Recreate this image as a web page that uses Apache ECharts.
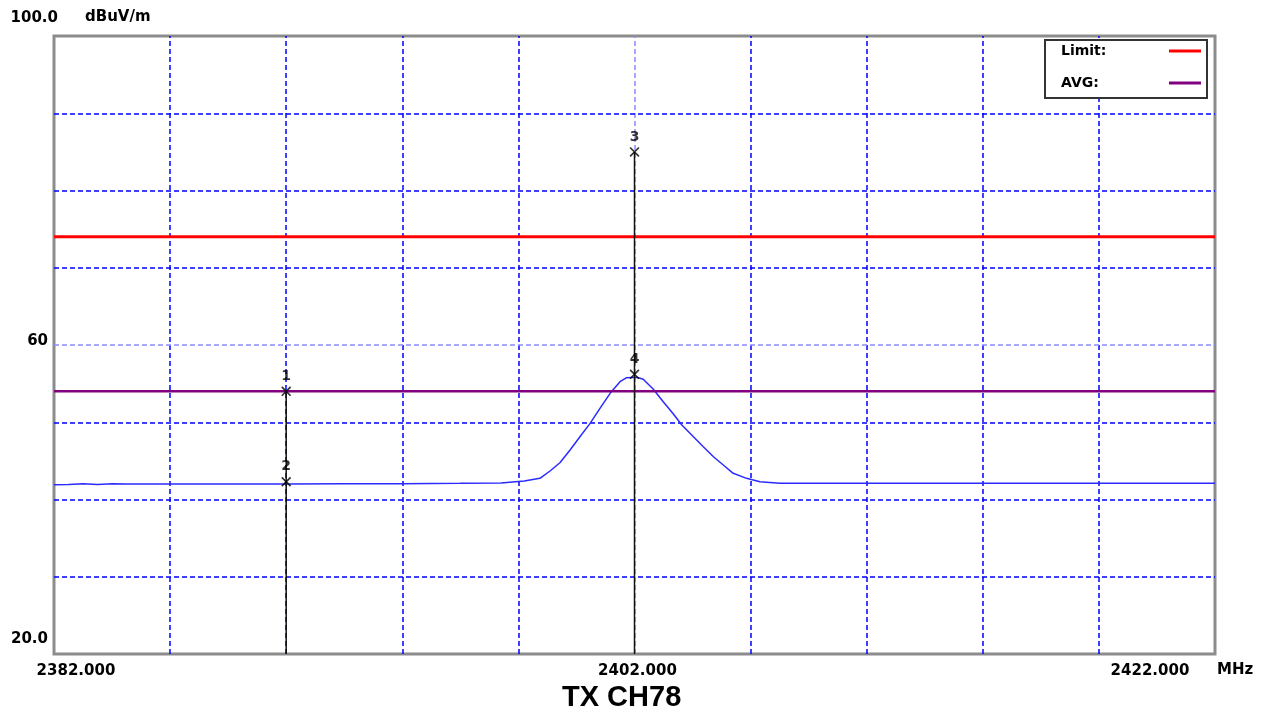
<!DOCTYPE html>
<html><head><meta charset="utf-8">
<script src="https://cdn.jsdelivr.net/npm/echarts@6/dist/echarts.min.js"></script>
<style>html,body{margin:0;padding:0;background:#fff}#c{width:1269px;height:715px}</style>
</head><body><div id="c"></div>
<script>
// ---- data ----
const traceFreq = [2382, 2382.5, 2383, 2383.5, 2384, 2384.5, 2386, 2388, 2390, 2392, 2394, 2396, 2397.4, 2398.2,
  2398.74, 2399.09, 2399.43, 2399.78, 2400.12, 2400.47, 2400.81, 2401.16, 2401.50, 2401.73, 2402.08, 2402.30,
  2402.65, 2402.99, 2403.34, 2403.63, 2404.03, 2404.37, 2404.72, 2405.06, 2405.40, 2405.86, 2406.32, 2407.01,
  2410, 2414, 2418, 2422];
const traceLevel = [41.9, 41.95, 42.05, 41.95, 42.05, 42.0, 42.0, 42.0, 42.0, 42.05, 42.05, 42.1, 42.15, 42.4,
  42.74, 43.69, 44.76, 46.41, 48.13, 49.86, 51.80, 53.74, 55.25, 55.77, 55.82, 55.56,
  54.27, 52.66, 51.07, 49.64, 48.13, 46.84, 45.54, 44.47, 43.39, 42.74, 42.30, 42.10,
  42.1, 42.1, 42.1, 42.1];
const limitLevel = 74;
const avgLevel = 54;
const markerNames = ['1', '2', '3', '4'];
const markerFreq = [2390, 2390, 2402, 2402];
const markerLevel = [54.0, 42.3, 85.0, 56.2];
const xTicks = [2382, 2386, 2390, 2394, 2398, 2402, 2406, 2410, 2414, 2418, 2422];
const yTicks = [20, 30, 40, 50, 60, 70, 80, 90, 100];
const yTickLabels = {100: '100.0', 60: '60', 20: '20.0'};
const xTickLabels = {2382: '2382.000', 2402: '2402.000', 2422: '2422.000'};
const xRange = [2382, 2422];
const yRange = [20, 100];
const centerX = 2402, centerY = 60;
const titleText = 'TX CH78';

// ---- chart ----
const FONT = 'DejaVu Sans';
const blue = '#0000ff', lightBlue = '#8c8cff';

const gridLines = [];
xTicks.slice(1, -1).forEach(v => gridLines.push({xAxis: v, lineStyle: {color: v === centerX ? lightBlue : blue}}));
yTicks.slice(1, -1).forEach(v => gridLines.push({yAxis: v, lineStyle: {color: v === centerY ? lightBlue : blue}}));

const stems = {};
markerFreq.forEach((f, i) => { stems[f] = Math.max(stems[f] || -Infinity, markerLevel[i]); });
const stemSeries = Object.keys(stems).map(f => ({
  type: 'line', name: 'stem' + f, data: [[+f, yRange[0]], [+f, stems[f]]],
  symbol: 'none', silent: true, z: 6,
  lineStyle: {color: '#111', width: 1.5}
}));

const chart = echarts.init(document.getElementById('c'));
chart.setOption({
  animation: false,
  backgroundColor: '#fff',
  title: {
    text: titleText, left: 557, top: 678,
    textStyle: {fontFamily: 'Liberation Sans', fontWeight: 'bold', fontSize: 29, color: '#000'}
  },
  legend: {
    data: ['Limit:', 'AVG:'], right: 62, top: 40, orient: 'vertical', align: 'right',
    icon: 'rect', itemWidth: 32, itemHeight: 3, itemGap: 16,
    padding: [3, 6, 7, 16], borderColor: '#333', borderWidth: 2, backgroundColor: '#fff',
    formatter: n => '{a|' + n + '}',
    textStyle: {fontFamily: FONT, fontWeight: 'bold', fontSize: 14, color: '#000', lineHeight: 16,
      rich: {a: {fontFamily: FONT, fontWeight: 'bold', fontSize: 14, color: '#000', width: 103, align: 'left'}}}
  },
  grid: {left: 54, right: 54, top: 36, bottom: 61, show: true, borderColor: '#8c8c8c', borderWidth: 3,
    outerBoundsMode: 'none', containLabel: false},
  xAxis: {
    type: 'value', min: xRange[0], max: xRange[1], interval: 4,
    name: '{u|MHz}', nameLocation: 'end', nameGap: 2, nameMoveOverlap: false,
    nameTextStyle: {fontFamily: FONT, fontWeight: 'bold', fontSize: 15, color: '#000', align: 'left',
      verticalAlign: 'top',
      rich: {u: {fontFamily: FONT, fontWeight: 'bold', fontSize: 15, color: '#000', lineHeight: 32}}},
    axisLine: {show: false}, axisTick: {show: false},
    axisLabel: {
      margin: 10, color: '#000', fontFamily: FONT, fontWeight: 'bold', fontSize: 15,
      formatter: v => {
        const t = xTickLabels[v];
        if (!t) return '';
        if (v === xRange[0]) return '{l|' + t + '}';
        if (v === xRange[1]) return '{r|' + t + '}';
        return '{c|' + t + '}';
      },
      rich: {
        l: {fontFamily: FONT, fontWeight: 'bold', fontSize: 15, color: '#000', padding: [0, 0, 0, 44]},
        r: {fontFamily: FONT, fontWeight: 'bold', fontSize: 15, color: '#000', padding: [0, 130, 0, 0]},
        c: {fontFamily: FONT, fontWeight: 'bold', fontSize: 15, color: '#000', padding: [0, 0, 0, 6]}
      }
    },
    splitLine: {show: false}
  },
  yAxis: {
    type: 'value', min: yRange[0], max: yRange[1], interval: 10,
    name: 'dBuV/m', nameLocation: 'end', nameGap: 19, nameMoveOverlap: false,
    nameTextStyle: {fontFamily: FONT, fontWeight: 'bold', fontSize: 15, color: '#000', align: 'left',
      verticalAlign: 'middle', padding: [0, 0, 0, 31]},
    axisLine: {show: false}, axisTick: {show: false},
    axisLabel: {
      margin: -4, color: '#000', fontFamily: FONT, fontWeight: 'bold', fontSize: 15,
      formatter: v => {
        const t = yTickLabels[v];
        if (!t) return '';
        if (v === yRange[1]) return '{t|' + t + '}';
        if (v === yRange[0]) return '{b|' + t + '}';
        return '{m|' + t + '}';
      },
      rich: {
        t: {fontFamily: FONT, fontWeight: 'bold', fontSize: 15, color: '#000', padding: [0, 0, 36, 0]},
        m: {fontFamily: FONT, fontWeight: 'bold', fontSize: 15, color: '#000', padding: [0, 10, 8, 0]},
        b: {fontFamily: FONT, fontWeight: 'bold', fontSize: 15, color: '#000', padding: [0, 10, 30, 0]}
      }
    },
    splitLine: {show: false}
  },
  series: [
    {type: 'line', name: 'grid', data: [], silent: true, z: 1,
      markLine: {silent: true, z: 1, symbol: 'none', animation: false, label: {show: false},
        lineStyle: {type: [5, 3], width: 1.5}, data: gridLines}},
    {type: 'line', name: 'Trace', data: traceFreq.map((f, i) => [f, traceLevel[i]]), symbol: 'none',
      lineStyle: {color: '#2b2bff', width: 1.5}, itemStyle: {color: '#2b2bff'}, z: 3},
    {type: 'line', name: 'Limit:', data: [[xRange[0], limitLevel], [xRange[1], limitLevel]], symbol: 'none',
      lineStyle: {color: '#ff0000', width: 3}, itemStyle: {color: '#ff0000'}, z: 3},
    {type: 'line', name: 'AVG:', data: [[xRange[0], avgLevel], [xRange[1], avgLevel]], symbol: 'none',
      lineStyle: {color: '#800080', width: 2.5}, itemStyle: {color: '#800080'}, z: 3},
    ...stemSeries,
    {type: 'scatter', name: 'markers', z: 7,
      data: markerFreq.map((f, i) => [f, markerLevel[i]]),
      symbol: 'path://M0,1.2L1.2,0L10,8.8L8.8,10Z M8.8,0L10,1.2L1.2,10L0,8.8Z', symbolSize: 10,
      itemStyle: {color: '#000'},
      label: {show: true, position: 'top', distance: 3, formatter: p => markerNames[p.dataIndex],
        fontFamily: FONT, fontWeight: 'bold', fontSize: 14, color: '#000'}
    }
  ]
});
</script></body></html>
